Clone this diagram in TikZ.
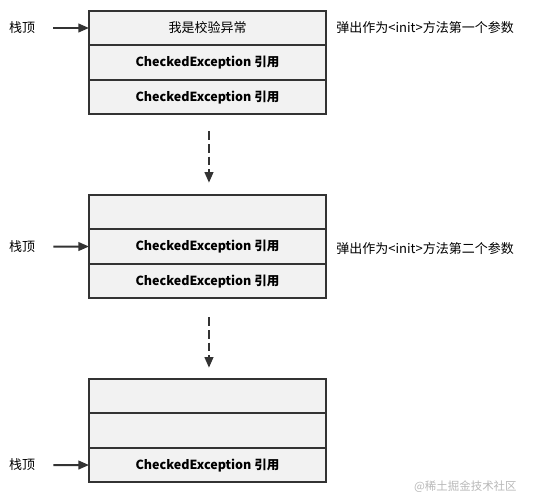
\documentclass[tikz,border=0pt]{standalone}
\usepackage{fontspec}
\newfontfamily\cjk{Noto Sans CJK SC}
\usetikzlibrary{positioning,arrows.meta}
\definecolor{cellgray}{HTML}{F2F2F2}
\definecolor{linegray}{HTML}{333333}
\tikzstyle{cell}=[shape=rectangle,
                draw=linegray,
                fill=cellgray,
                line width=1.5pt,
                outer sep=0pt,
                minimum height=25.9pt,
                minimum width=177.75pt,
                font=\cjk\bfseries\fontsize{9.4}{11}\selectfont]
\tikzstyle{tag}=[font=\cjk\fontsize{9.75}{11}\selectfont,
                inner sep=1pt]

\begin{document}
\begin{tikzpicture}[x=0.75pt,y=-0.75pt,>={Triangle[length=8pt,width=6.5pt]},
                    line width=1.5pt,draw=linegray]
\useasboundingbox (0,0) rectangle (538,493);

% first frame
\node[cell,font=\cjk\fontsize{9.75}{11}\selectfont] (a1) at (207.5,28) {我是校验异常};
\node[cell] (a2) [below=0pt of a1] {CheckedException 引用};
\node[cell] (a3) [below=0pt of a2] {CheckedException 引用};

% second frame
\node[cell] (b1) at (207.5,212) {};
\node[cell] (b2) [below=0pt of b1] {CheckedException 引用};
\node[cell] (b3) [below=0pt of b2] {CheckedException 引用};

% third frame
\node[cell] (c1) at (207.5,396) {};
\node[cell] (c2) [below=0pt of c1] {};
\node[cell] (c3) [below=0pt of c2] {CheckedException 引用};

% stack top labels
\node[tag] (ta) at (22,28)  {栈顶};
\node[tag] (tb) at (22,246.5) {栈顶};
\node[tag] (tc) at (22,465) {栈顶};

% notes on the right
\node[tag,anchor=west] (na) at (334,28)  {弹出作为<init>方法第一个参数};
\node[tag,anchor=west] (nb) at (334,249) {弹出作为<init>方法第二个参数};

% watermark
\node[tag,anchor=east,text=black!28,font=\cjk\fontsize{8.6}{10}\selectfont] (wm) at (519,487) {@稀土掘金技术社区};

% arrows
\path[->,draw=linegray] (ta) edge[shorten <=12pt] (a1)
          (tb) edge[shorten <=12pt] (b2)
          (tc) edge[shorten <=12pt] (c3);
\draw[->,draw=linegray,dash pattern=on 6.5pt off 3pt,shorten <=12.75pt,shorten >=9pt]
          ([xshift=1.1pt]a3.south) -- ([xshift=1.1pt]b1.north);
\draw[->,draw=linegray,dash pattern=on 6.5pt off 3pt,shorten <=14.25pt,shorten >=8.25pt]
          ([xshift=1.1pt]b3.south) -- ([xshift=1.1pt]c1.north);

\end{tikzpicture}
\end{document}
